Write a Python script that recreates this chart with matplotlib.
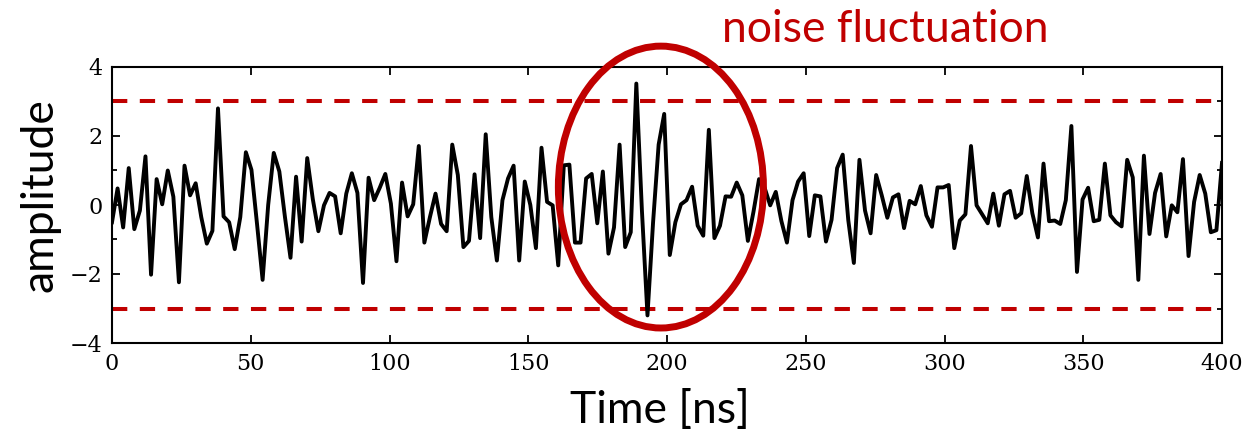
import numpy as np
import matplotlib
matplotlib.use("Agg")
import matplotlib.pyplot as plt
from matplotlib.patches import Ellipse

amp_a = [-0.5, 0.48, -0.65, 1.07, -0.7, -0.16, 1.41, -2.02, 0.75, 0.02,
         1.0, 0.24, -2.24, 1.14, 0.28, 0.63, -0.35, -1.12, -0.75, 2.8,
         -0.33, -0.5, -1.28, -0.35, 1.53, 1.02, -0.55, -2.17, 0.0, 1.51,
         0.97, -0.34, -1.53, 0.82, -1.06, 1.36, 0.17, -0.76, -0.01, 0.35,
         0.25, -0.82, 0.33, 0.92, 0.35, -2.26, 0.79, 0.14, 0.5, 0.9]
amp_b = [0.04, -1.63, 0.65, -0.33, 0.02, 1.71, -1.09, -0.35, 0.33, -0.55,
         -0.76, 1.75, 0.87, -1.22, -1.04, 0.89, -0.96, 2.05, -0.35, -1.61,
         0.14, 0.77, 1.14, -1.61, 0.68, 0.0, -1.25, 1.66, 0.09, -0.01,
         -1.75, 1.15, 1.17, -1.09, -1.09, 0.77, 0.9, -0.53, 0.97, -1.41,
         -0.65, 1.75, -1.22, -0.79, 3.52, -0.15, -3.2, -0.51, 1.75, 2.64]
amp_c = [-1.45, -0.5, 0.02, 0.14, 0.53, -0.6, -0.89, 2.18, -0.96, -0.6,
         0.25, 0.24, 0.65, 0.28, -1.04, -0.2, 0.75, 0.5, -0.01, 0.38,
         -0.46, -1.09, 0.14, 0.68, 0.92, -0.9, 0.28, 0.25, -1.06, -0.43,
         1.07, 1.46, -0.44, -1.68, 1.31, -0.16, -0.82, 0.87, 0.28, -0.37,
         0.22, 0.31, -0.67, 0.12, 0.02, 0.55, -0.3, -0.63, 0.51, 0.51]
amp_d = [0.58, -1.25, -0.45, -0.27, 1.71, -0.01, -0.27, -0.53, 0.33, -0.6,
         0.31, 0.41, -0.37, -0.24, 0.84, -0.24, -0.94, 1.2, -0.47, -0.45,
         -0.55, 0.14, 2.29, -1.94, 0.16, 0.5, -0.47, -0.43, 1.2, -0.3,
         -0.5, -0.62, 1.31, 0.8, -2.17, 1.43, -0.84, 0.35, 0.9, -0.91,
         -0.01, -0.21, 1.33, -1.48, 0.09, 0.87, 0.33, -0.79, -0.73, 1.22]
amplitude = amp_a + amp_b + amp_c + amp_d
time_ns = np.linspace(0, 400, len(amplitude))

threshold = 3
xticks = [0, 50, 100, 150, 200, 250, 300, 350, 400]
yticks = [-4, -2, 0, 2, 4]

red = '#C00000'
label_font = ['Lato', 'DejaVu Sans']

fig = plt.figure(figsize=(12.44, 4.36), dpi=100)
ax = fig.add_axes([112 / 1244, 1 - 343 / 436, 1110 / 1244, 276 / 436])

ax.axhline(threshold, color=red, lw=2.9, linestyle=(0, (3.8, 3.1)))
ax.axhline(-threshold, color=red, lw=2.9, linestyle=(0, (3.8, 3.1)))
ax.plot(time_ns, amplitude, color='black', lw=2.8)

ax.add_patch(Ellipse((197.8, 0.52), 73.9, 8.17, fill=False, edgecolor=red,
                     lw=5, clip_on=False, zorder=5))

ax.set_xlim(0, 400)
ax.set_ylim(-4, 4)
ax.set_xticks(xticks)
ax.set_yticks(yticks)
ax.set_yticks([-3, -1, 1, 3], minor=True)
ax.tick_params(which='both', direction='in', top=True, right=True,
               labelsize=16, width=1.3)
ax.tick_params(which='major', length=6, pad=7)
ax.tick_params(which='minor', length=3.5)
for lab in ax.get_xticklabels() + ax.get_yticklabels():
    lab.set_family('DejaVu Serif')
for sp in ax.spines.values():
    sp.set_linewidth(1.5)

fig.text(660 / 1244, 1 - 410 / 436, 'Time [ns]', family=label_font,
         fontsize=32, ha='center', va='center')
fig.text(40 / 1244, 1 - 195 / 436, 'amplitude', family=label_font,
         fontsize=32, ha='center', va='center', rotation=90)
fig.text(885 / 1244, 1 - 30 / 436, 'noise fluctuation', family=label_font,
         fontsize=32, ha='center', va='center', color=red)

fig.savefig('out.png', dpi=100)
